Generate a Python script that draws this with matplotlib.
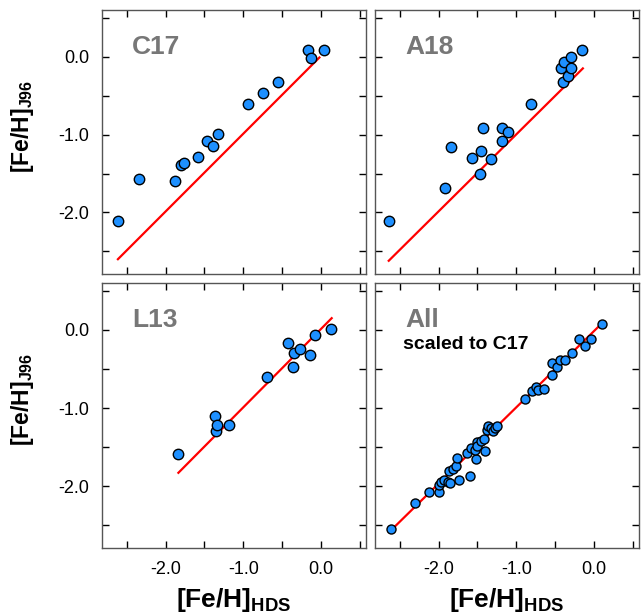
import numpy as np
import matplotlib
matplotlib.use("Agg")
import matplotlib.pyplot as plt
from matplotlib.ticker import MultipleLocator

plt.rcParams['font.family'] = ['Liberation Sans', 'DejaVu Sans']
plt.rcParams['mathtext.fontset'] = 'custom'
plt.rcParams['mathtext.rm'] = 'Liberation Sans'
plt.rcParams['mathtext.bf'] = 'Liberation Sans:bold'

# C17 sample: [Fe/H]_HDS vs [Fe/H]_J96
c17_hds = [-2.615, -2.34, -1.88, -1.80, -1.76, -1.59, -1.47, -1.385, -1.325,
           -0.94, -0.75, -0.555, -0.17, -0.13, 0.04]
c17_j96 = [-2.11, -1.57, -1.59, -1.39, -1.37, -1.29, -1.085, -1.15, -0.99,
           -0.61, -0.467, -0.33, 0.08, -0.01, 0.08]
c17_line_x = [-2.615, -0.02]
c17_line_y = [-2.60, -0.01]

# A18 sample
a18_hds = [-2.643, -1.92, -1.84, -1.57, -1.456, -1.426, -1.47, -1.326, -1.186,
           -1.108, -1.186, -0.81, -0.40, -0.426, -0.39, -0.335, -0.296, -0.296,
           -0.149]
a18_j96 = [-2.11, -1.68, -1.16, -1.295, -1.21, -0.92, -1.505, -1.31, -0.92,
           -0.97, -1.085, -0.61, -0.326, -0.145, -0.07, -0.25, -0.14, 0.0,
           0.08]
a18_line_x = [-2.643, -0.143]
a18_line_y = [-2.62, -0.15]

# L13 sample
l13_hds = [-1.836, -1.364, -1.346, -1.333, -1.19, -0.70, -0.43, -0.35, -0.357,
           -0.275, -0.142, -0.077, 0.133]
l13_j96 = [-1.587, -1.10, -1.29, -1.217, -1.213, -0.606, -0.17, -0.29, -0.47,
           -0.245, -0.327, -0.065, 0.01]
l13_line_x = [-1.836, 0.138]
l13_line_y = [-1.828, 0.15]

# All samples, scaled to C17
all_hds = [-2.61, -2.31, -2.125, -1.99, -1.99, -1.97, -1.925, -1.88, -1.85,
           -1.74, -1.865, -1.81, -1.78, -1.76, -1.60, -1.63, -1.59, -1.52,
           -1.53, -1.50, -1.50, -1.456, -1.40, -1.41, -1.38, -1.37, -1.33,
           -1.30, -1.28, -1.25, -0.89, -0.80, -0.75, -0.72, -0.64, -0.54,
           -0.54, -0.47, -0.44, -0.37, -0.28, -0.196, -0.12, -0.035, 0.108]
all_j96 = [-2.55, -2.21, -2.08, -2.08, -1.98, -1.95, -1.92, -1.94, -1.96,
           -1.92, -1.80, -1.78, -1.74, -1.635, -1.87, -1.58, -1.505, -1.655,
           -1.53, -1.43, -1.49, -1.42, -1.55, -1.40, -1.28, -1.235, -1.25,
           -1.29, -1.26, -1.226, -0.88, -0.78, -0.73, -0.766, -0.75, -0.58,
           -0.42, -0.47, -0.39, -0.39, -0.30, -0.12, -0.21, -0.12, 0.08]
all_line_x = [-2.61, 0.108]
all_line_y = [-2.56, 0.09]

xlim = (-2.82, 0.58)
ylim = (-2.79, 0.60)

fig = plt.figure(figsize=(6.41, 6.15), dpi=100)
W, H = 641.0, 615.0
ax1 = fig.add_axes([102 / W, (H - 274) / H, 264 / W, 264 / H])
ax2 = fig.add_axes([375 / W, (H - 274) / H, 264 / W, 264 / H])
ax3 = fig.add_axes([102 / W, (H - 548) / H, 264 / W, 265 / H])
ax4 = fig.add_axes([375 / W, (H - 548) / H, 264 / W, 265 / H])

panels = [
    (ax1, c17_hds, c17_j96, c17_line_x, c17_line_y, 'C17', 7.5),
    (ax2, a18_hds, a18_j96, a18_line_x, a18_line_y, 'A18', 7.5),
    (ax3, l13_hds, l13_j96, l13_line_x, l13_line_y, 'L13', 7.5),
    (ax4, all_hds, all_j96, all_line_x, all_line_y, 'All', 6.5),
]

for ax, xs, ys, lx, ly, name, ms in panels:
    ax.plot(lx, ly, color='red', lw=1.6, zorder=2)
    ax.plot(xs, ys, 'o', ms=ms, mfc='#1E90FF', mec='black', mew=1.0, zorder=3)
    ax.set_xlim(*xlim)
    ax.set_ylim(*ylim)
    ax.xaxis.set_major_locator(MultipleLocator(1.0))
    ax.xaxis.set_minor_locator(MultipleLocator(0.5))
    ax.yaxis.set_major_locator(MultipleLocator(1.0))
    ax.yaxis.set_minor_locator(MultipleLocator(0.5))
    ax.tick_params(which='both', direction='in', top=True, right=True,
                   length=5, width=1.0, color='black', labelsize=13, pad=9)
    ax.xaxis.set_major_formatter(plt.FuncFormatter(lambda v, p: '%.1f' % v))
    ax.yaxis.set_major_formatter(plt.FuncFormatter(lambda v, p: '%.1f' % v))
    for sp in ax.spines.values():
        sp.set_color('#555555')
        sp.set_linewidth(1.0)
    ax.text(0.114, 0.86, name, transform=ax.transAxes, fontsize=19,
            fontweight='bold', color='#777777', va='center', ha='left')

ax4.text(0.106, 0.769, 'scaled to C17', transform=ax4.transAxes, fontsize=14,
         fontweight='bold', color='black', va='center', ha='left')

for ax in (ax1, ax2):
    ax.tick_params(labelbottom=False)
for ax in (ax2, ax4):
    ax.tick_params(labelleft=False)

for ax in (ax1, ax3):
    ax.set_ylabel(r'$\mathbf{[Fe/H]_{J96}}$', fontsize=16.5)
    ax.yaxis.set_label_coords(-0.25, 0.56)
for ax in (ax3, ax4):
    ax.set_xlabel(r'$\mathbf{[Fe/H]_{HDS}}$', fontsize=19, labelpad=6)

fig.savefig('out.png', dpi=100)
